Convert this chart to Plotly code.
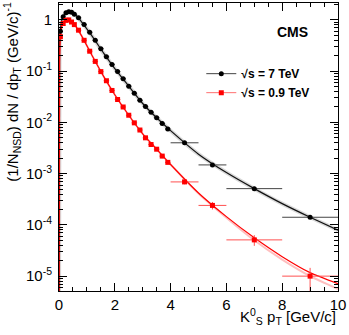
"""K0S pT spectra at 7 TeV and 0.9 TeV (CMS style), Plotly."""
import plotly.graph_objects as go

# ---- data ---------------------------------------------------------------
pt = [0.05, 0.15, 0.25, 0.35, 0.45, 0.55, 0.7, 0.9, 1.1, 1.3, 1.5, 1.7, 1.9,
      2.1, 2.3, 2.5, 2.7, 2.9, 3.1, 3.3, 3.5, 3.7, 3.9, 4.5, 5.5, 7.0, 9.0]
pt_halfwidth = [0.05] * 6 + [0.1] * 17 + [0.5, 0.5, 1.0, 1.0]

y_7tev = [0.60, 1.15, 1.38, 1.45, 1.41, 1.29, 1.10, 0.81, 0.575, 0.40, 0.275,
          0.19, 0.135, 0.098, 0.071, 0.051, 0.037, 0.027, 0.0204, 0.0158,
          0.0123, 0.0095, 0.0074, 0.0040, 0.00148, 0.00051, 0.000141]
yerr_7tev = [0.02, 0.03, 0.03, 0.03, 0.03, 0.03, 0.02, 0.015, 0.01, 0.008,
             0.005, 0.004, 0.003, 0.002, 0.0015, 0.001, 0.0008, 0.0006,
             0.0004, 0.0003, 0.0003, 0.0002, 0.0002, 0.0002, 0.0001,
             0.00004, 0.00001]

y_09tev = [0.47, 0.85, 0.98, 1.00, 0.91, 0.81, 0.63, 0.40, 0.245, 0.155,
           0.098, 0.065, 0.042, 0.028, 0.020, 0.0138, 0.0098, 0.0071, 0.0050,
           0.0037, 0.0030, 0.0022, 0.00166, 0.00069, 0.00024, 5.1e-5, 1.0e-5]
yerr_09tev_up = [0.02, 0.03, 0.03, 0.03, 0.03, 0.02, 0.02, 0.01, 0.008,
                 0.005, 0.004, 0.003, 0.002, 0.0015, 0.001, 0.0008, 0.0006,
                 0.0004, 0.0003, 0.0003, 0.0002, 0.0002, 0.0001, 0.00007,
                 0.00004, 1.2e-5, 0.45e-5]
yerr_09tev_dn = yerr_09tev_up[:-1] + [0.99e-5]

# fitted curves
fit_x = [0.0, 0.02, 0.05, 0.1, 0.15, 0.3, 0.5, 0.8, 1.2, 1.6, 2.0, 2.5, 3.0,
         3.5, 4.0, 5.0, 6.0, 7.0, 8.0, 9.0, 10.0]
fit_7tev = [1e-6, 0.30, 0.62, 0.98, 1.17, 1.45, 1.41, 0.93, 0.47, 0.224,
            0.112, 0.051, 0.0234, 0.0123, 0.0069, 0.0024, 0.00105, 0.00051,
            0.00026, 0.000141, 7.9e-5]
fit_09tev = [1e-6, 0.15, 0.47, 0.76, 0.87, 1.00, 0.89, 0.50, 0.195, 0.079,
             0.0347, 0.0138, 0.0060, 0.0030, 0.00151, 0.00042, 0.000145,
             5.6e-5, 2.4e-5, 1.17e-5, 7.1e-6]
fit_09tev_alt = [1e-6, 0.15, 0.47, 0.76, 0.87, 1.00, 0.89, 0.50, 0.195, 0.079,
                 0.0347, 0.0138, 0.0060, 0.0030, 0.00151, 0.00041, 0.000138,
                 5.0e-5, 2.1e-5, 1.0e-5, 5.6e-6]

x_ticks = [0, 2, 4, 6, 8, 10]
y_ticks = [1, 1e-1, 1e-2, 1e-3, 1e-4, 1e-5]
y_tick_text = ["1", "10<sup>-1</sup>", "10<sup>-2</sup>", "10<sup>-3</sup>",
               "10<sup>-4</sup>", "10<sup>-5</sup>"]

FONT = "Liberation Sans, Arial, Helvetica, sans-serif"
RED = "#ff0000"
SPLINE = dict(shape="spline", smoothing=0.6)

fig = go.Figure()

# fit curves
fig.add_trace(go.Scatter(x=fit_x, y=fit_7tev, mode="lines", showlegend=False,
                         line=dict(color="rgba(0,0,0,0.15)", width=4, **SPLINE),
                         hoverinfo="skip"))
fig.add_trace(go.Scatter(x=fit_x, y=fit_7tev, mode="lines", showlegend=False,
                         line=dict(color="#111111", width=1.2, **SPLINE),
                         hoverinfo="skip"))
fig.add_trace(go.Scatter(x=fit_x, y=fit_09tev_alt, mode="lines", showlegend=False,
                         line=dict(color="rgba(255,0,0,0.25)", width=2, **SPLINE),
                         hoverinfo="skip"))
fig.add_trace(go.Scatter(x=fit_x, y=fit_09tev, mode="lines", showlegend=False,
                         line=dict(color=RED, width=1.2, **SPLINE),
                         hoverinfo="skip"))

# data points
fig.add_trace(go.Scatter(
    x=pt, y=y_7tev, mode="markers", showlegend=False,
    marker=dict(symbol="circle", size=5, color="black"),
    error_x=dict(type="data", array=pt_halfwidth, color="#444444", thickness=1, width=0),
    error_y=dict(type="data", array=yerr_7tev, color="#444444", thickness=1, width=0),
))
fig.add_trace(go.Scatter(
    x=pt, y=y_09tev, mode="markers", showlegend=False,
    marker=dict(symbol="square", size=5, color=RED),
    error_x=dict(type="data", array=pt_halfwidth, color="#ff5050", thickness=1, width=0),
    error_y=dict(type="data", symmetric=False, array=yerr_09tev_up,
                 arrayminus=yerr_09tev_dn, color="#ff5050", thickness=1, width=0),
))

# legend entries (line + marker, like the ROOT legend)
fig.add_trace(go.Scatter(x=[None], y=[None], mode="lines+markers", name="<b>√s = 7 TeV</b>",
                         marker=dict(symbol="circle", size=5, color="black"),
                         line=dict(color="#444444", width=1)))
fig.add_trace(go.Scatter(x=[None], y=[None], mode="lines+markers", name="<b>√s = 0.9 TeV</b>",
                         marker=dict(symbol="square", size=5, color=RED),
                         line=dict(color="#ff7070", width=1)))

axis_common = dict(
    showline=True, linecolor="black", linewidth=1, mirror="ticks",
    ticks="inside", ticklen=8, tickcolor="black", showgrid=False, zeroline=False,
    tickfont=dict(family=FONT, size=15, color="black"),
)
fig.update_xaxes(range=[0, 10], tickvals=x_ticks,
                 minor=dict(ticks="inside", ticklen=4, dtick=0.5, tickcolor="black"),
                 **axis_common)
fig.update_yaxes(type="log", range=[-5.29, 0.33], tickvals=y_ticks, ticktext=y_tick_text,
                 minor=dict(ticks="inside", ticklen=4, dtick="D1", tickcolor="black"),
                 ticklabelstandoff=3, **axis_common)

fig.add_annotation(text="K<sup>0</sup><sub>S</sub> p<sub>T</sub> [GeV/c]",
                   xref="paper", yref="paper", x=1.0, y=-0.09,
                   xanchor="right", yanchor="middle", showarrow=False,
                   font=dict(family=FONT, size=15, color="black"))
fig.add_annotation(text="(1/N<sub>NSD</sub>) dN / dp<sub>T</sub> (GeV/c)<sup>-1</sup>",
                   xref="paper", yref="paper", x=-0.17, y=1.01, textangle=-90,
                   xanchor="center", yanchor="top", showarrow=False,
                   font=dict(family=FONT, size=15, color="black"))
fig.add_annotation(text="<b>CMS</b>", xref="paper", yref="paper", x=0.90, y=0.90,
                   xanchor="right", yanchor="middle", showarrow=False,
                   font=dict(family=FONT, size=14, color="black"))

fig.update_layout(
    width=349, height=335,
    margin=dict(l=59, r=11, t=3, b=44),
    paper_bgcolor="white", plot_bgcolor="white",
    showlegend=True,
    legend=dict(x=0.51, y=0.805, xanchor="left", yanchor="top",
                bgcolor="rgba(0,0,0,0)", tracegroupgap=0,
                font=dict(family=FONT, size=12, color="black")),
)

# the page's default body margin would shift the figure by 8 px
fig.write_html("out.html", config={"displayModeBar": False},
               post_script="document.body.style.margin = '0';")
